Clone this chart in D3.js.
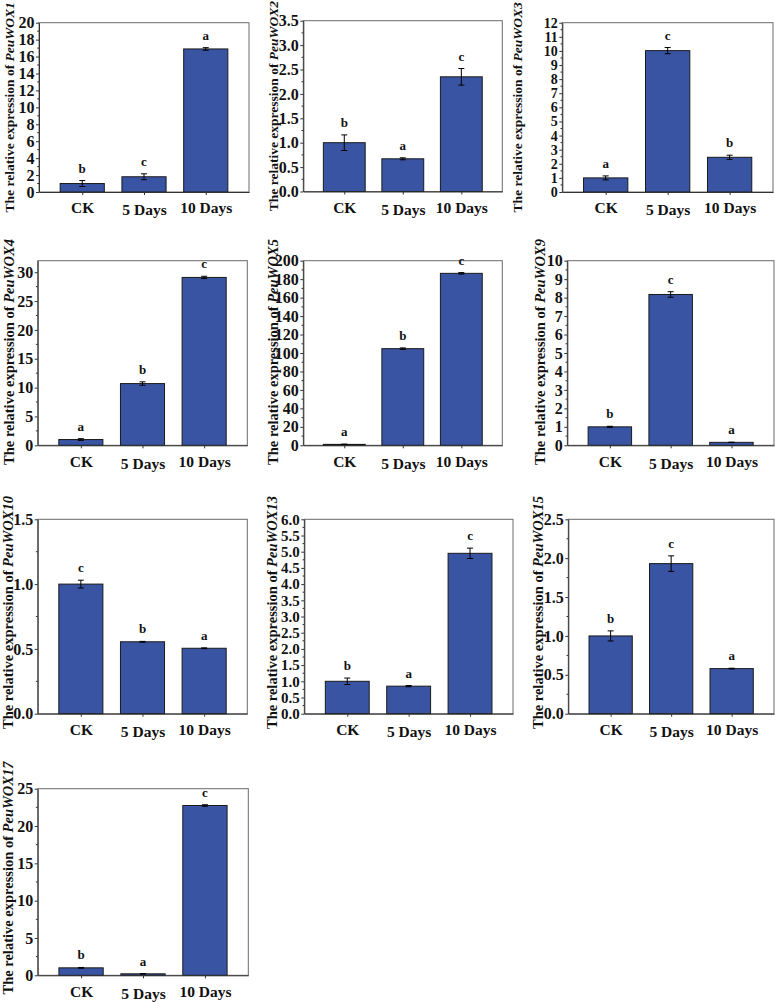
<!DOCTYPE html>
<html>
<head>
<meta charset="utf-8">
<script src="https://cdn.jsdelivr.net/npm/d3@7"></script>
<style>
  html, body { margin: 0; padding: 0; background: #fff; }
  svg { display: block; }
  text { font-family: "Liberation Serif", "Times New Roman", serif; font-weight: bold; fill: #111; }
</style>
</head>
<body>
<svg id="chart" width="775" height="1002"></svg>
<script>
// ---------- data ----------
const categories = ["CK", "5 Days", "10 Days"];
const genes = ["PeuWOX1", "PeuWOX2", "PeuWOX3", "PeuWOX4", "PeuWOX5", "PeuWOX9", "PeuWOX10", "PeuWOX13", "PeuWOX15", "PeuWOX17"];
const means = [
  [1.0, 1.8, 16.9],
  [1.0, 0.67, 2.35],
  [1.0, 10.02, 2.46],
  [1.0, 10.7, 29.1],
  [1.0, 104.7, 186.3],
  [1.0, 8.17, 0.16],
  [1.0, 0.555, 0.505],
  [1.0, 0.85, 4.95],
  [1.0, 1.93, 0.58],
  [1.0, 0.2, 22.75]
];
const errors = [
  [0.35, 0.35, 0.15],
  [0.16, 0.02, 0.17],
  [0.14, 0.22, 0.15],
  [0.15, 0.3, 0.2],
  [0.3, 0.8, 0.8],
  [0.03, 0.15, 0.01],
  [0.03, 0.003, 0.003],
  [0.1, 0.02, 0.16],
  [0.065, 0.1, 0.005],
  [0.05, 0.03, 0.1]
];
const letters = [
  ["b", "c", "a"],
  ["b", "a", "c"],
  ["a", "c", "b"],
  ["a", "b", "c"],
  ["a", "b", "c"],
  ["b", "c", "a"],
  ["c", "b", "a"],
  ["b", "a", "c"],
  ["b", "c", "a"],
  ["b", "a", "c"]
];
const yMax = [20, 3.5, 12, 32, 200, 10, 1.5, 6, 2.5, 25];
const yStep = [2, 0.5, 1, 5, 20, 1, 0.5, 0.5, 0.5, 5];
const yDecimals = [0, 1, 0, 0, 0, 0, 1, 1, 1, 0];

// ---------- layout (positions only) ----------
const layout = [
  {L: 39,    R: 249,   T: 22.7,  B: 192,   lx: 9,   fs: 13.5, dy: 0,  tf: 16},
  {L: 303.3, R: 502.3, T: 20.7,  B: 191.5, lx: 273, fs: 13.5, dy: 0,  tf: 16},
  {L: 562.3, R: 773,   T: 22.7,  B: 192,   lx: 517, fs: 13.5, dy: 0,  tf: 14},
  {L: 37.7,  R: 247.3, T: 260.7, B: 445.3, lx: 9,   fs: 14.5, dy: -1, tf: 16},
  {L: 303.3, R: 502.3, T: 260.7, B: 445.3, lx: 273, fs: 14.5, dy: -1, tf: 16},
  {L: 567.3, R: 774,   T: 260.7, B: 445.3, lx: 540, fs: 14.5, dy: -1, tf: 16},
  {L: 37.7,  R: 247.3, T: 519.3, B: 713.7, lx: 7.5, fs: 14.5, dy: -4, tf: 16},
  {L: 304.3, R: 513,   T: 519.3, B: 713.7, lx: 272, fs: 14.5, dy: -4, tf: 15},
  {L: 568.3, R: 774,   T: 519.3, B: 713.7, lx: 538, fs: 14.5, dy: -4, tf: 16},
  {L: 37.7,  R: 248.3, T: 788.7, B: 975.3, lx: 8,   fs: 14.5, dy: -4, tf: 16}
];

const svg = d3.select("#chart");
const barFill = "#3a54a4";

genes.forEach((gene, gi) => {
  const lay = layout[gi];
  const g = svg.append("g");

  const x = d3.scalePoint().domain(categories).range([lay.L, lay.R]).padding(0.7);
  const y = d3.scaleLinear().domain([0, yMax[gi]]).range([lay.B, lay.T]);
  const bw = x.step() * 0.715;

  // frame
  g.append("rect")
    .attr("x", lay.L).attr("y", lay.T)
    .attr("width", lay.R - lay.L).attr("height", lay.B - lay.T)
    .attr("fill", "none").attr("stroke", "#6a6a6a").attr("stroke-width", 1);

  // bars
  const rows = categories.map((c, i) => ({c, v: means[gi][i], e: errors[gi][i], l: letters[gi][i]}));
  g.selectAll("rect.bar").data(rows).enter().append("rect")
    .attr("class", "bar")
    .attr("x", d => x(d.c) - bw / 2)
    .attr("width", bw)
    .attr("y", d => y(d.v))
    .attr("height", d => Math.max(0.8, y(0) - y(d.v)))
    .attr("fill", barFill)
    .attr("stroke", "#1a1a1a").attr("stroke-width", 1);

  // error bars
  const eb = g.selectAll("g.err").data(rows).enter().append("g").attr("class", "err")
    .attr("stroke", "#000").attr("stroke-width", 1);
  eb.append("line")
    .attr("x1", d => x(d.c)).attr("x2", d => x(d.c))
    .attr("y1", d => y(d.v + d.e)).attr("y2", d => y(Math.max(0, d.v - d.e)));
  eb.append("line")
    .attr("x1", d => x(d.c) - 3).attr("x2", d => x(d.c) + 3)
    .attr("y1", d => y(d.v + d.e)).attr("y2", d => y(d.v + d.e));
  eb.append("line")
    .attr("x1", d => x(d.c) - 3).attr("x2", d => x(d.c) + 3)
    .attr("y1", d => y(Math.max(0, d.v - d.e))).attr("y2", d => y(Math.max(0, d.v - d.e)));

  // letters
  g.selectAll("text.sig").data(rows).enter().append("text")
    .attr("class", "sig")
    .attr("x", d => x(d.c))
    .attr("y", d => y(d.v + d.e) - 8)
    .attr("text-anchor", "middle")
    .style("font-size", "13px")
    .text(d => d.l);

  // y axis
  const ticks = d3.range(0, yMax[gi] + 1e-9, yStep[gi]);
  const minor = d3.range(yStep[gi] / 2, yMax[gi], yStep[gi]);
  const yAxis = d3.axisLeft(y).tickValues(ticks).tickSize(3).tickSizeOuter(0).tickPadding(1.5)
    .tickFormat(d3.format("." + yDecimals[gi] + "f"));
  const ya = g.append("g").attr("transform", `translate(${lay.L},0)`).call(yAxis);
  ya.select(".domain").attr("stroke", "#333");
  ya.selectAll(".tick line").attr("stroke", "#333");
  ya.selectAll(".tick text").style("font-size", lay.tf + "px").attr("fill", "#111")
    .style("font-family", "'Liberation Serif', serif").style("font-weight", "bold");
  g.append("g").selectAll("line").data(minor).enter().append("line")
    .attr("x1", lay.L - 1.8).attr("x2", lay.L)
    .attr("y1", d => y(d)).attr("y2", d => y(d))
    .attr("stroke", "#333");

  // x axis
  const xAxis = d3.axisBottom(x).tickSize(3).tickSizeOuter(0).tickPadding(6);
  const xa = g.append("g").attr("transform", `translate(0,${lay.B})`).call(xAxis);
  xa.select(".domain").attr("stroke", "#333");
  xa.selectAll(".tick line").attr("stroke", "#333");
  xa.selectAll(".tick text").style("font-size", "15.5px").attr("fill", "#111")
    .style("font-family", "'Liberation Serif', serif").style("font-weight", "bold")
    .attr("dy", (d, i) => i === 1 ? "0.92em" : "0.8em");

  // y label
  const cy = (lay.T + lay.B) / 2 + lay.dy;
  const lab = g.append("text")
    .attr("transform", `translate(${lay.lx},${cy}) rotate(-90)`)
    .attr("text-anchor", "middle")
    .attr("dy", "0.35em")
    .style("font-size", lay.fs + "px");
  lab.append("tspan").text("The relative expression of ");
  lab.append("tspan").style("font-style", "italic").text(gene);
});
</script>
</body>
</html>
